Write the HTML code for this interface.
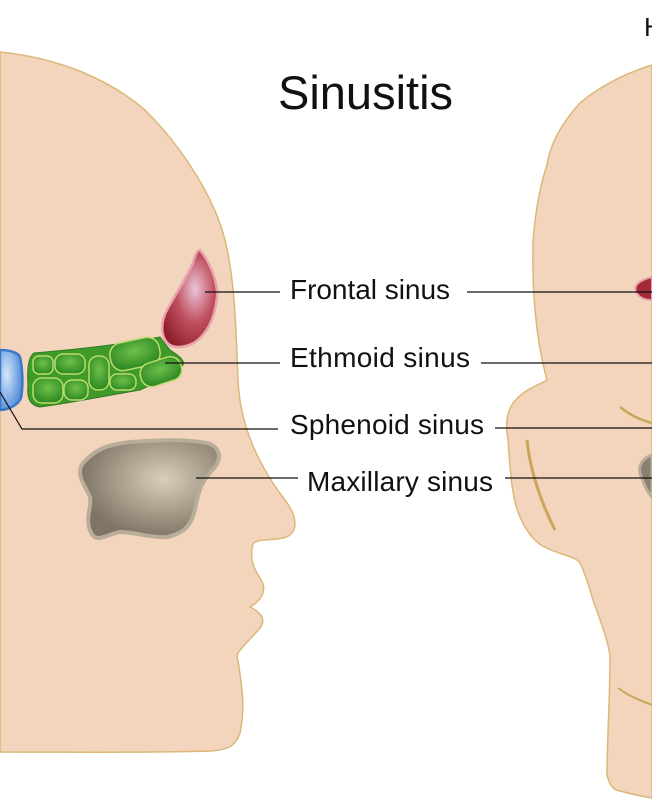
<!DOCTYPE html>
<html><head><meta charset="utf-8"><style>
html,body{margin:0;padding:0;background:#fff;}
svg{display:block;}
text{font-family:"Liberation Sans",sans-serif;fill:#111;}
</style></head><body>
<svg width="652" height="812" viewBox="0 0 652 812" xmlns="http://www.w3.org/2000/svg">
<defs>
<radialGradient id="rg" cx="0.6" cy="0.4" r="0.7"><stop offset="0" stop-color="#e9c4d8"/><stop offset="0.5" stop-color="#c0505f"/><stop offset="1" stop-color="#8d1c2c"/></radialGradient>
<radialGradient id="gg" cx="0.5" cy="0.4" r="0.6"><stop offset="0" stop-color="#6fc04a"/><stop offset="1" stop-color="#2f8a24"/></radialGradient>
<radialGradient id="bg" cx="0.3" cy="0.4" r="0.7"><stop offset="0" stop-color="#d6e6fa"/><stop offset="1" stop-color="#4d8ad8"/></radialGradient>
<radialGradient id="mg" cx="0.6" cy="0.4" r="0.6"><stop offset="0" stop-color="#d9cfb8"/><stop offset="1" stop-color="#7e7566"/></radialGradient>
</defs>
<path d="M0,52 C60,58 110,80 145,110 C185,150 215,200 225,240 C235,280 236,330 238,380 C240,430 262,470 285,500 C300,520 297,535 283,538 C270,541 258,538 253,544 C250,555 252,567 260,578 C268,590 262,600 250,607 C262,613 266,620 260,628 C250,640 240,648 237,655 C241,680 246,705 240,733 C235,748 225,750 210,751 C150,753 80,752 0,752 Z" fill="#f3d4bd" stroke="#dcb878" stroke-width="1.5"/>
<path d="M652,65 C620,75 595,90 580,103 C560,125 550,145 547,165 C535,200 532,250 533,248 C532,290 536,340 547,380 C540,385 525,388 513,403 C505,415 506,430 508,439 C510,470 512,500 520,517 C528,535 538,545 547,548 C560,555 575,556 580,563 C586,575 590,590 593,600 C600,620 608,640 610,656 C610,700 607,740 607,775 C610,788 615,790 620,791 C635,795 645,797 652,798 Z" fill="#f3d4bd" stroke="#dcb878" stroke-width="1.5"/>
<path d="M527,440 C530,470 540,500 555,530" stroke="#c9a65a" stroke-width="3" fill="none"/>
<path d="M620,407 C630,415 640,420 652,423" stroke="#c9a65a" stroke-width="2.5" fill="none"/>
<path d="M618,688 C630,697 640,700 652,705" stroke="#c9a65a" stroke-width="2" fill="none"/>
<path d="M652,277 C640,280 633,285 636,292 C640,299 646,300 652,300 Z" fill="#a42a3a" stroke="#e9a0a8" stroke-width="2"/>
<path d="M652,455 C642,458 636,468 642,478 C646,490 650,495 652,497 Z" fill="#8a8070" stroke="#b8ad98" stroke-width="3"/>
<path d="M200,250 C212,265 218,285 217,297 C215,315 210,328 200,338 C193,345 180,350 170,345 C160,338 160,322 168,308 C178,290 188,275 193,263 C195,255 197,250 200,250 Z" fill="url(#rg)" stroke="#e8a3ad" stroke-width="2.5"/>
<path d="M34,353 C70,350 120,345 160,337 L170,350 C178,355 185,360 183,365 C170,378 150,385 140,390 C110,395 70,403 40,407 C28,405 27,395 28,385 C27,370 28,357 34,353 Z" fill="#3f9a2a" stroke="#2f7a20" stroke-width="1"/>
<g fill="url(#gg)" stroke="#b9dc6a" stroke-width="1.5">
<rect x="33" y="356" width="20" height="18" rx="6"/>
<rect x="55" y="354" width="30" height="20" rx="8"/>
<rect x="33" y="378" width="30" height="25" rx="9"/>
<rect x="64" y="380" width="24" height="20" rx="8"/>
<rect x="89" y="356" width="20" height="34" rx="9"/>
<rect x="110" y="340" width="50" height="28" rx="12" transform="rotate(-12 135 354)"/>
<rect x="110" y="374" width="26" height="16" rx="7"/>
<rect x="140" y="360" width="42" height="24" rx="11" transform="rotate(-18 160 372)"/>
</g>
<path d="M0,350 C8,350 18,352 20,357 C23,370 23,388 21,398 C18,405 8,410 0,410 Z" fill="url(#bg)" stroke="#3d78c8" stroke-width="2.5"/>
<path d="M83,463 C95,450 105,445 130,442 C160,440 185,439 207,443 C220,447 222,457 215,467 C205,478 200,485 197,500 C193,520 190,532 167,537 C150,538 135,532 120,532 C105,535 95,545 90,530 C85,518 92,507 90,497 C85,485 75,475 83,463 Z" fill="url(#mg)" stroke="#b8ad98" stroke-width="4"/>
<g stroke="#111" stroke-width="1.2" fill="none">
<line x1="205" y1="292" x2="280" y2="292"/>
<line x1="467" y1="292" x2="652" y2="292"/>
<line x1="165" y1="363" x2="280" y2="363"/>
<line x1="481" y1="363" x2="652" y2="363"/>
<polyline points="0,392 22,429 278,429"/>
<line x1="495" y1="428" x2="652" y2="428"/>
<line x1="196" y1="478" x2="298" y2="478"/>
<line x1="505" y1="478" x2="652" y2="478"/>
</g>
<text x="278" y="109" font-size="47">Sinusitis</text>
<text x="644" y="36" font-size="26">H</text>
<text x="290" y="299" font-size="28" textLength="160">Frontal sinus</text>
<text x="290" y="367" font-size="28" textLength="180">Ethmoid sinus</text>
<text x="290" y="434" font-size="28" textLength="194">Sphenoid sinus</text>
<text x="307" y="491" font-size="28" textLength="186">Maxillary sinus</text>
</svg>
</body></html>
